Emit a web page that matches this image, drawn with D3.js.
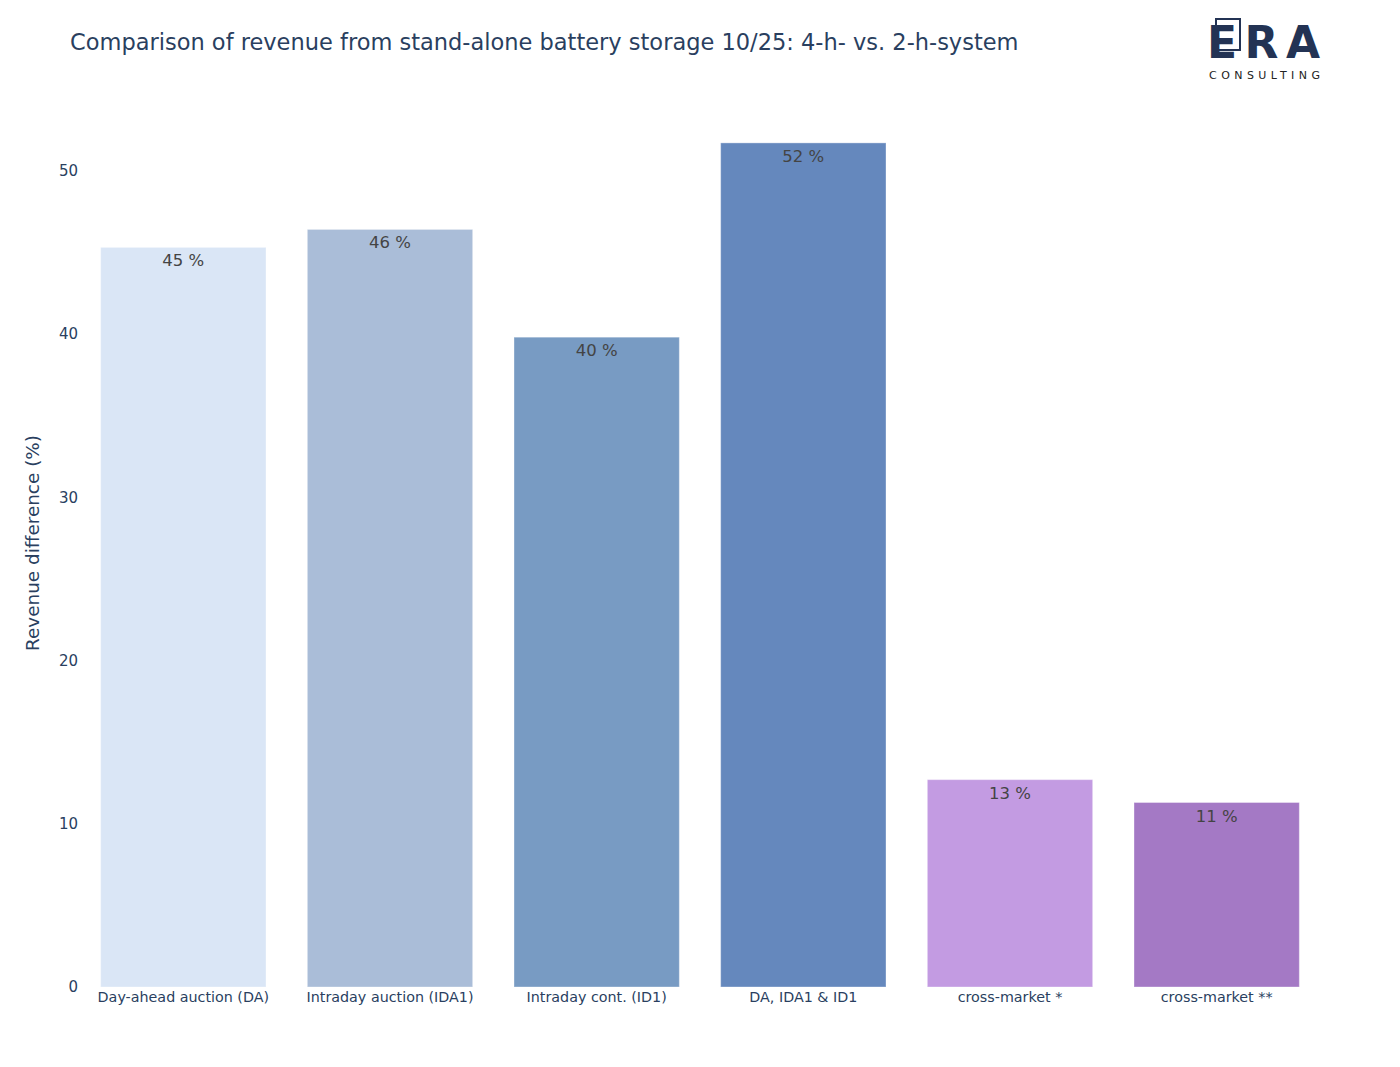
<!DOCTYPE html>
<html>
<head>
  <meta charset="utf-8">
  <title>Revenue comparison</title>
  <script src="https://d3js.org/d3.v7.min.js"></script>
  <style>
    body { margin: 0; background: #fff; }
    svg text { font-family: "DejaVu Sans", Verdana, sans-serif; }
  </style>
</head>
<body>
  <svg width="1400" height="1067"></svg>
  <script>
    const categories = ["Day-ahead auction (DA)", "Intraday auction (IDA1)", "Intraday cont. (ID1)",
      "DA, IDA1 & ID1", "cross-market *", "cross-market **"];
    const values = [45.3, 46.4, 39.8, 51.7, 12.7, 11.3];
    const colors = ["#dae6f6", "#aabdd8", "#789bc3", "#6588bd", "#c39be2", "#a479c5"];
    const yTicks = [0, 10, 20, 30, 40, 50];

    const svg = d3.select("svg");
    const m = { left: 80, right: 80, top: 99, bottom: 80 };
    const W = 1400, H = 1067;

    const x = d3.scaleBand().domain(categories).range([m.left, W - m.right]).paddingInner(0.2).paddingOuter(0.1);
    const y = d3.scaleLinear().domain([0, d3.max(values) * 1.052]).range([H - m.bottom, m.top]);

    // title
    svg.append("text").attr("x", 70).attr("y", 50)
      .attr("font-size", 22.5).attr("fill", "#2a3f5f")
      .text("Comparison of revenue from stand-alone battery storage 10/25: 4-h- vs. 2-h-system");

    // bars
    const data = categories.map((c, i) => ({ c, v: values[i], col: colors[i] }));
    svg.selectAll("rect.bar").data(data).join("rect").attr("class", "bar")
      .attr("x", d => x(d.c)).attr("width", x.bandwidth())
      .attr("y", d => y(d.v)).attr("height", d => y(0) - y(d.v))
      .attr("fill", d => d.col)
      .attr("stroke", "#ffffff").attr("stroke-opacity", 0.35).attr("stroke-width", 1);

    svg.selectAll("text.val").data(data).join("text").attr("class", "val")
      .attr("x", d => x(d.c) + x.bandwidth() / 2).attr("y", d => y(d.v) + 19)
      .attr("text-anchor", "middle").attr("font-size", 16.5).attr("fill", "#444")
      .text(d => Math.round(d.v) + " %");

    // y axis
    const yAxis = svg.append("g").attr("transform", `translate(${m.left - 2},0)`)
      .call(d3.axisLeft(y).tickValues(yTicks).tickSize(0).tickPadding(0));
    yAxis.select(".domain").remove();
    yAxis.selectAll("text").attr("font-size", 15).attr("fill", "#2a3f5f")
      .attr("font-family", "DejaVu Sans, sans-serif");

    // x axis
    const xAxis = svg.append("g").attr("transform", `translate(0,${H - m.bottom})`)
      .call(d3.axisBottom(x).tickSize(0).tickPadding(5));
    xAxis.select(".domain").remove();
    xAxis.selectAll("text").attr("font-size", 14.3).attr("fill", "#2a3f5f")
      .attr("font-family", "DejaVu Sans, sans-serif");

    // y title
    svg.append("text")
      .attr("transform", `translate(39,${(m.top + H - m.bottom) / 2}) rotate(-90)`)
      .attr("text-anchor", "middle").attr("font-size", 18.4).attr("fill", "#2a3f5f")
      .text("Revenue difference (%)");

    // logo
    const logo = svg.append("g").attr("transform", "translate(1207,0)");
    const navy = "#233354";
    logo.append("rect").attr("x", 9).attr("y", 19).attr("width", 24).attr("height", 31)
      .attr("fill", "none").attr("stroke", navy).attr("stroke-width", 2);
    logo.append("text").attr("x", 0).attr("y", 58).attr("font-size", 44).attr("font-weight", "bold")
      .attr("fill", navy).attr("font-family", "Liberation Sans, Arial, sans-serif")
      .attr("textLength", 113).attr("lengthAdjust", "spacing").text("ERA");
    logo.append("text").attr("x", 2).attr("y", 79).attr("font-size", 11)
      .attr("fill", "#222").attr("font-family", "Liberation Sans, Arial, sans-serif")
      .attr("textLength", 111).attr("lengthAdjust", "spacing").text("CONSULTING");
  </script>
</body>
</html>
